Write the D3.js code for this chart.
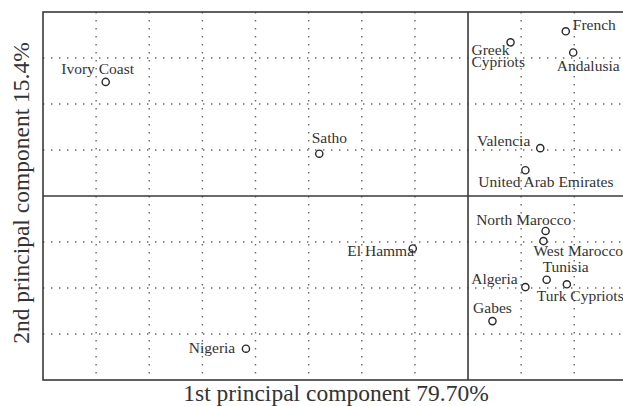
<!DOCTYPE html>
<meta charset="utf-8">
<style>
body { margin: 0; background: #fff; }
svg { display: block; }
.frame { fill: none; stroke: #3a3a3a; stroke-width: 1.6px; }
.zero { stroke: #3a3a3a; stroke-width: 1.6px; }
.grid line { stroke: #6a6a6a; stroke-width: 1.4px; stroke-dasharray: 1.4,6.6; }
.pt { fill: #fff; stroke: #2a2a2a; stroke-width: 1.4px; }
text { font-family: "Liberation Serif", "Times New Roman", "DejaVu Serif", serif; fill: #333; }
.lbl { font-size: 15.5px; }
.title { font-size: 23.5px; }
</style>
<body>
<script src="https://d3js.org/d3.v7.min.js"></script>
<script>

// PCA scores
var names = ["Ivory Coast", "Satho", "Greek Cypriots", "French", "Andalusia", "Valencia",
  "United Arab Emirates", "North Marocco", "West Marocco", "El Hamma", "Tunisia",
  "Turk Cypriots", "Algeria", "Gabes", "Nigeria"];
var pc1 = [-3.41, -1.40, 0.40, 0.92, 0.99, 0.68, 0.54, 0.73, 0.71, -0.52, 0.74, 0.93, 0.54, 0.23, -2.09];
var pc2 = [1.24, 0.46, 1.67, 1.79, 1.56, 0.52, 0.28, -0.38, -0.49, -0.57, -0.91, -0.96, -0.99, -1.36, -1.66];

var xTicks = d3.range(-4, 1.51, 0.5);
var yTicks = d3.range(-2, 2.01, 0.5);
var xTitle = "1st principal component 79.70%";
var yTitle = "2nd principal component 15.4%";

// where each label sits relative to its point
var place = {
  "Ivory Coast": ["middle", -8, -8.4],
  "Satho": ["start", -7.6, -10.6],
  "Greek Cypriots": ["start", -39, 13],
  "French": ["start", 7, -1],
  "Andalusia": ["middle", 15, 18.3],
  "Valencia": ["end", -10, -2.6],
  "United Arab Emirates": ["middle", 20.5, 16.4],
  "North Marocco": ["end", 25.7, -5.7],
  "West Marocco": ["start", -10, 14.7],
  "El Hamma": ["end", 1.3, 7.4],
  "Tunisia": ["start", -4, -7.3],
  "Turk Cypriots": ["start", -30, 17],
  "Algeria": ["end", -7.7, -3],
  "Gabes": ["middle", 0, -8],
  "Nigeria": ["end", -10.7, 4]
};

var W = 623, H = 406;
var margin = {top: 12, left: 43};
var width = 584.4, height = 368;

var x = d3.scaleLinear().domain([-4, 1.5]).range([0, width]);
var y = d3.scaleLinear().domain([-2, 2]).range([height, 0]);

var data = names.map(function(n, i) { return {name: n, x: pc1[i], y: pc2[i]}; });

var svg = d3.select("body").append("svg")
  .attr("width", W)
  .attr("height", H);

var g = svg.append("g")
  .attr("transform", "translate(" + margin.left + "," + margin.top + ")");

var grid = g.append("g").attr("class", "grid");
grid.selectAll(".vx")
  .data(xTicks.filter(function(t) { return t > -4 && t < 1.5 && Math.abs(t) > 1e-9; }))
  .enter().append("line")
  .attr("x1", function(d) { return x(d); })
  .attr("x2", function(d) { return x(d); })
  .attr("y1", 0)
  .attr("y2", height);
grid.selectAll(".hy")
  .data(yTicks.filter(function(t) { return t > -2 && t < 2 && Math.abs(t) > 1e-9; }))
  .enter().append("line")
  .attr("y1", function(d) { return y(d); })
  .attr("y2", function(d) { return y(d); })
  .attr("x1", 0)
  .attr("x2", width);

g.append("line").attr("class", "zero")
  .attr("x1", x(0)).attr("x2", x(0)).attr("y1", 0).attr("y2", height);
g.append("line").attr("class", "zero")
  .attr("x1", 0).attr("x2", width).attr("y1", y(0)).attr("y2", y(0));

g.append("rect").attr("class", "frame")
  .attr("width", width)
  .attr("height", height);

var pts = g.selectAll(".p")
  .data(data)
  .enter().append("g");

pts.append("circle")
  .attr("class", "pt")
  .attr("cx", function(d) { return x(d.x); })
  .attr("cy", function(d) { return y(d.y); })
  .attr("r", 3.6);

pts.each(function(d) {
  var p = place[d.name];
  var t = d3.select(this).append("text")
    .attr("class", "lbl")
    .attr("text-anchor", p[0])
    .attr("x", x(d.x) + p[1])
    .attr("y", y(d.y) + p[2]);
  if (d.name == "Greek Cypriots") {
    t.append("tspan").text("Greek");
    t.append("tspan").attr("x", x(d.x) + p[1]).attr("dy", 12).text("Cypriots");
  } else {
    t.text(d.name);
  }
});

svg.append("text").attr("class", "title")
  .attr("text-anchor", "middle")
  .attr("x", 336)
  .attr("y", 401)
  .text(xTitle);

svg.append("text").attr("class", "title")
  .attr("text-anchor", "middle")
  .attr("transform", "translate(29,193) rotate(-90)")
  .text(yTitle);

</script>
